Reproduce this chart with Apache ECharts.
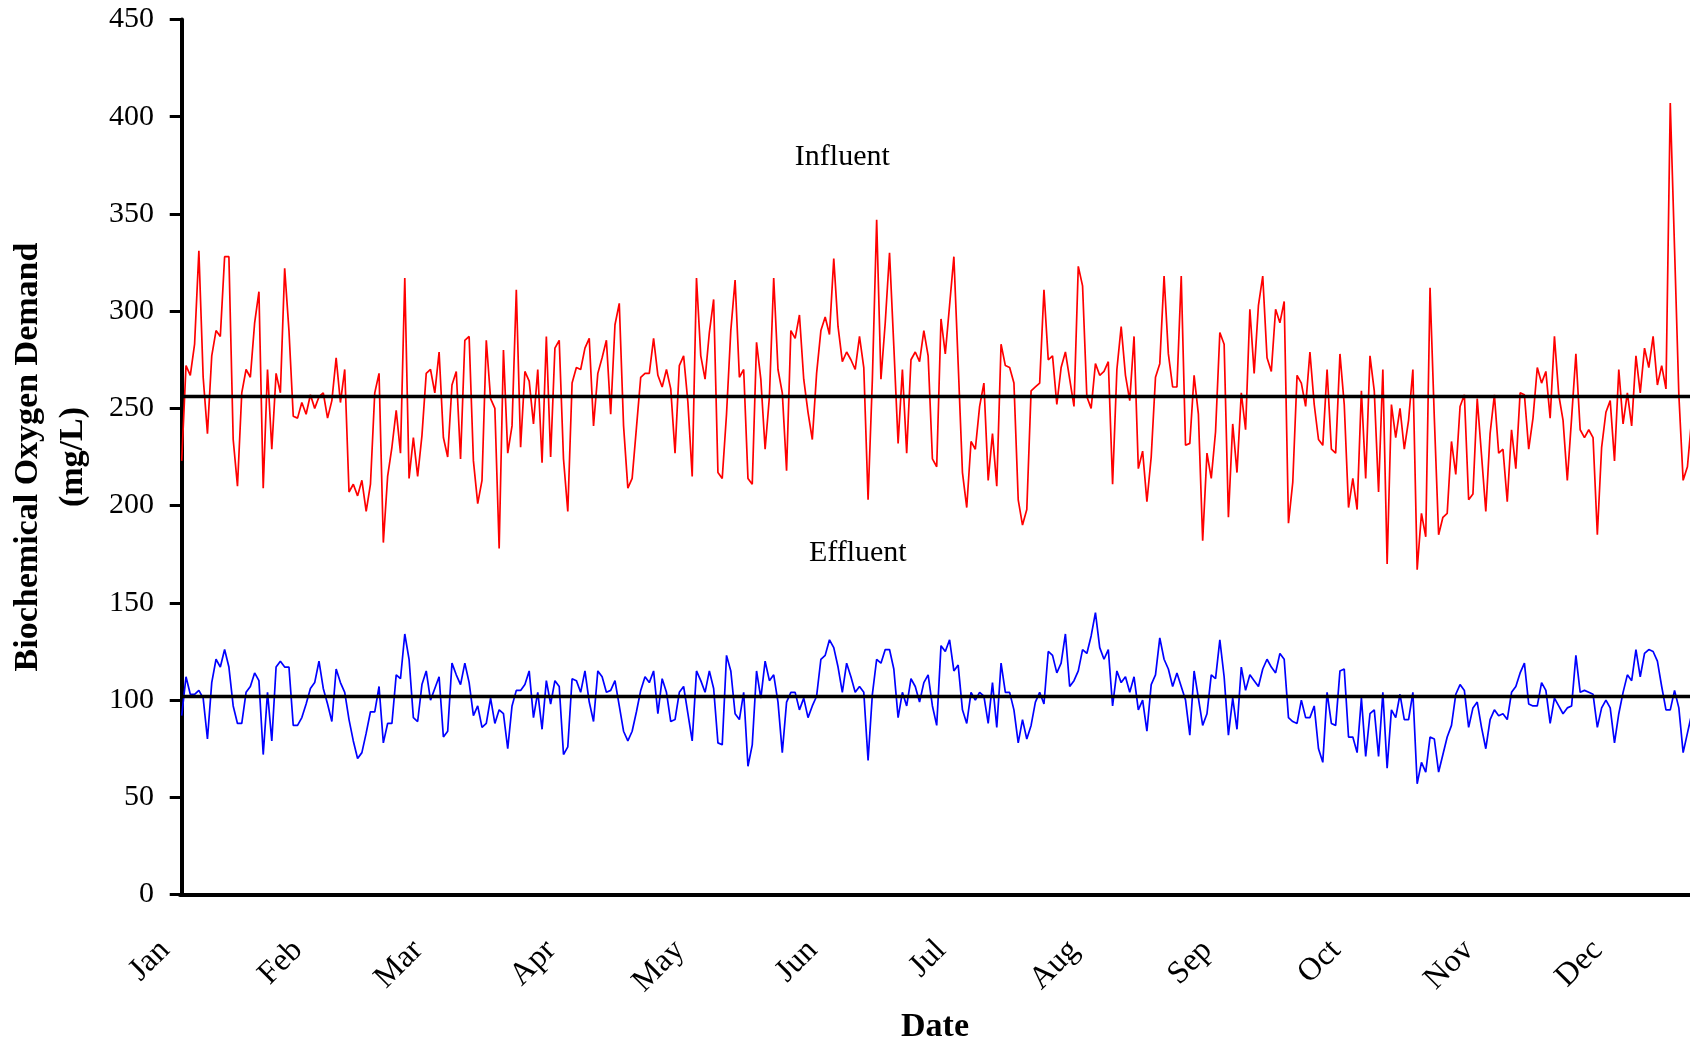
<!DOCTYPE html>
<html>
<head>
<meta charset="utf-8">
<script src="https://cdn.jsdelivr.net/npm/echarts/dist/echarts.min.js"></script>
<style>
  html, body { margin: 0; padding: 0; background: #fff; }
  #chart { width: 1690px; height: 1043px; }
</style>
</head>
<body>
<div id="chart"></div>
<script>
// ---- Data (day index from Jan 1, one value per day) ----
const monthNames = ['Jan','Feb','Mar','Apr','May','Jun','Jul','Aug','Sep','Oct','Nov','Dec'];
const monthStartDays = [0,31,59,90,120,151,181,212,243,273,304,334];
const yTickValues = [0,50,100,150,200,250,300,350,400,450];

const influent = [
223,272,267,283,331,266,237,277,290,287,
328,328,234,210,258,270,266,294,310,209,
270,229,268,258,322,290,246,245,253,247,
257,250,256,258,245,254,276,253,270,207,
211,205,213,197,211,258,268,181,215,230,
249,227,317,214,235,215,236,268,270,258,
279,235,225,262,269,224,285,287,223,201,
213,285,255,250,178,280,227,241,311,230,
269,264,242,270,222,287,225,281,285,224,
197,263,271,270,281,286,241,268,276,285,
247,293,304,241,209,214,240,266,268,268,
286,267,261,270,260,227,272,277,253,215,
317,277,265,289,306,217,214,247,290,316,
266,270,214,211,284,265,229,256,317,270,
258,218,290,286,298,265,248,234,268,290,
297,288,327,292,274,279,275,270,287,271,
203,265,347,265,294,330,282,232,270,227,
275,279,274,290,277,224,220,296,278,303,
328,273,217,199,233,229,251,263,213,237,
210,283,272,271,263,203,190,198,259,261,
263,311,275,277,252,271,279,265,251,323,
313,256,250,273,267,269,274,211,270,292,
267,254,287,219,228,202,225,266,273,318,
278,261,261,318,231,232,267,247,182,227,
214,238,289,283,194,242,217,258,239,301,
268,303,318,276,269,301,294,305,191,212,
267,263,251,279,252,234,231,270,229,227,
278,252,199,214,198,259,214,277,259,207,
270,170,252,235,250,229,244,270,167,196,
184,312,245,185,194,196,233,216,251,257,
203,206,255,226,197,237,257,227,229,202,
239,219,258,257,229,245,271,263,269,245,
287,257,244,213,245,278,239,235,239,235,
185,230,248,254,223,270,242,258,241,277,
258,281,271,287,262,272,260,407,332,257,
213,220,245
];

const effluent = [
92,112,103,103,105,101,80,109,121,117,
126,117,97,88,88,104,107,114,110,72,
104,79,117,120,117,117,87,87,91,98,
106,109,120,106,98,89,116,109,104,90,
79,70,73,83,94,94,107,78,88,88,
113,111,134,121,91,89,108,115,100,106,
112,81,84,119,113,108,119,109,92,97,
86,88,101,88,95,93,75,97,105,105,
108,115,91,104,85,110,98,110,107,72,
76,111,110,104,115,99,89,115,112,104,
105,110,97,84,79,84,94,105,112,109,
115,93,111,104,89,90,104,107,93,79,
115,110,104,115,106,78,77,123,115,93,
90,104,66,77,115,101,120,110,113,99,
73,99,104,104,95,101,91,97,102,121,
123,131,127,117,104,119,112,104,107,104,
69,103,121,119,126,126,116,91,104,97,
111,107,99,109,113,97,87,128,125,131,
115,118,95,88,104,100,104,102,88,109,
86,119,104,104,95,78,90,80,87,99,
104,98,125,123,114,119,134,107,110,115,
126,124,133,145,127,121,126,97,115,109,
112,104,112,95,100,84,108,113,132,121,
116,107,114,107,100,82,115,101,87,93,
113,111,131,112,82,101,85,117,105,113,
110,107,116,121,117,114,124,121,91,89,
88,100,91,91,97,75,68,104,88,87,
115,116,81,81,73,101,71,93,95,71,
104,65,95,91,103,90,90,104,57,68,
63,81,80,63,72,81,87,103,108,105,
86,96,99,86,75,90,95,92,93,90,
104,107,114,119,98,97,97,109,105,88,
101,97,93,96,97,123,104,105,104,103,
86,96,100,96,78,93,104,113,110,126,
112,124,126,125,120,107,95,95,105,96,
73,83,93
];

const influentMean = 256;
const effluentMean = 102;

// ---- Chart ----
const FONT = "'Liberation Serif', 'Times New Roman', serif";
const chart = echarts.init(document.getElementById('chart'), null, { renderer: 'canvas' });

const option = {
  animation: false,
  backgroundColor: '#ffffff',
  grid: { left: 180, right: 0, top: 19.4, bottom: 148.4, containLabel: false, outerBoundsMode: 'none' },
  xAxis: {
    type: 'value',
    min: -0.4,
    max: 351.6,
    axisLine: { show: true, onZero: false, lineStyle: { color: '#000', width: 4 } },
    axisTick: { show: false },
    splitLine: { show: false },
    axisLabel: {
      customValues: monthStartDays,
      formatter: function (v) {
        const i = monthStartDays.indexOf(Math.round(v));
        return i >= 0 ? monthNames[i] : '';
      },
      rotate: 45,
      margin: 34,
      padding: [0, 24, 0, 0],
      fontSize: 32,
      fontFamily: FONT,
      color: '#000'
    },
    name: 'Date',
    nameLocation: 'middle',
    nameGap: 116,
    nameTextStyle: { fontSize: 34, fontWeight: 'bold', fontFamily: FONT, color: '#000' }
  },
  yAxis: {
    type: 'value',
    min: 0,
    max: 450,
    interval: 50,
    axisLine: { show: true, lineStyle: { color: '#000', width: 4 } },
    axisTick: { show: true, inside: false, length: 12, lineStyle: { color: '#000', width: 3 } },
    splitLine: { show: false },
    axisLabel: {
      margin: 26,
      fontSize: 30,
      fontFamily: FONT,
      color: '#000'
    },
    name: 'Biochemical Oxygen Demand\n(mg/L)',
    nameLocation: 'middle',
    nameRotate: 90,
    nameGap: 84,
    nameTextStyle: { fontSize: 34, fontWeight: 'bold', fontFamily: FONT, color: '#000', lineHeight: 45, align: 'center' }
  },
  series: [
    {
      name: 'Influent',
      type: 'line',
      data: influent.map((v, i) => [i, v]),
      showSymbol: false,
      symbol: 'none',
      lineStyle: { color: '#ff0000', width: 1.7 },
      z: 2,
      markPoint: {
        symbol: 'circle',
        symbolSize: 0,
        silent: true,
        data: [{ coord: [154, 379] }],
        label: { show: true, position: 'inside', formatter: 'Influent', fontSize: 30, fontFamily: FONT, color: '#000' }
      },
      markLine: {
        silent: true,
        symbol: ['none', 'none'],
        label: { show: false },
        lineStyle: { color: '#000', width: 3.3, type: 'solid' },
        data: [{ yAxis: influentMean }]
      }
    },
    {
      name: 'Effluent',
      type: 'line',
      data: effluent.map((v, i) => [i, v]),
      showSymbol: false,
      symbol: 'none',
      lineStyle: { color: '#0000ff', width: 1.7 },
      z: 2,
      markPoint: {
        symbol: 'circle',
        symbolSize: 0,
        silent: true,
        data: [{ coord: [157.6, 175.7] }],
        label: { show: true, position: 'inside', formatter: 'Effluent', fontSize: 30, fontFamily: FONT, color: '#000' }
      },
      markLine: {
        silent: true,
        symbol: ['none', 'none'],
        label: { show: false },
        lineStyle: { color: '#000', width: 3.3, type: 'solid' },
        data: [{ yAxis: effluentMean }]
      }
    }
  ]
};
chart.setOption(option);
</script>
</body>
</html>
